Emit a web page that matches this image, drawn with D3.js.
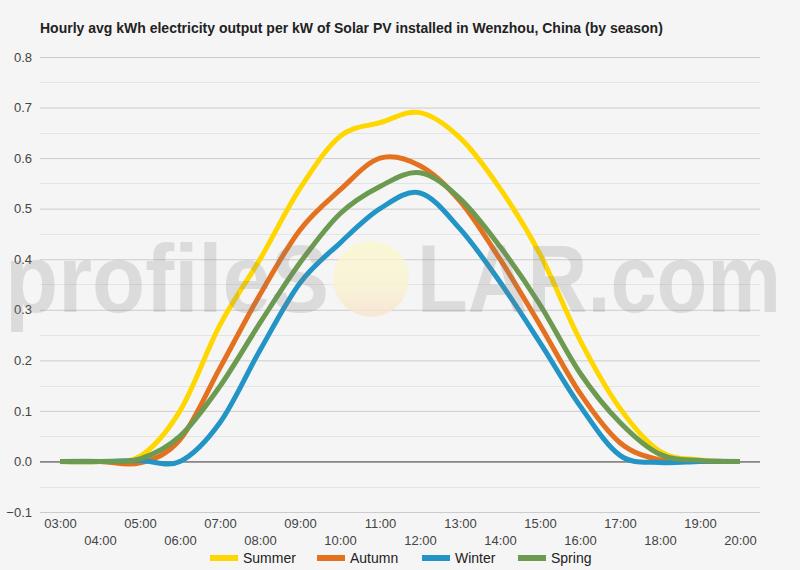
<!DOCTYPE html>
<html>
<head>
<meta charset="utf-8">
<script src="https://cdn.jsdelivr.net/npm/d3@7"></script>
<style>
    body { margin: 0; background: #f5f5f5; }
    svg { display: block; font-family: Arial, "Liberation Sans", sans-serif; }
</style>
</head>
<body>
<svg id="chart" width="800" height="570"></svg>
<script>
const hours = ['03:00', '04:00', '05:00', '06:00', '07:00', '08:00', '09:00', '10:00', '11:00',
    '12:00', '13:00', '14:00', '15:00', '16:00', '17:00', '18:00', '19:00', '20:00'];
const summer = [0, 0, 0.01, 0.10, 0.27, 0.40, 0.54, 0.643, 0.67, 0.69, 0.64, 0.54, 0.41, 0.24, 0.105, 0.02, 0.003, 0];
const autumn = [0, 0, -0.003, 0.043, 0.185, 0.33, 0.458, 0.537, 0.60, 0.585, 0.515, 0.40, 0.27, 0.135, 0.037, 0.003, 0, 0];
const winter = [0, 0, 0.002, 0.0, 0.077, 0.22, 0.353, 0.432, 0.50, 0.531, 0.46, 0.355, 0.235, 0.11, 0.012, -0.002, 0, 0];
const spring = [0, 0, 0.005, 0.05, 0.149, 0.274, 0.393, 0.49, 0.544, 0.571, 0.52, 0.425, 0.31, 0.175, 0.077, 0.014, 0.002, 0];
const seriesNames = ['Summer', 'Autumn', 'Winter', 'Spring'];
const seriesColors = ['#ffd700', '#e4711f', '#2394c6', '#6b9a50'];
const yTicks = [-0.1, 0, 0.1, 0.2, 0.3, 0.4, 0.5, 0.6, 0.7, 0.8];

const series = [summer, autumn, winter, spring];

let margin = {top: 57, right: 40, bottom: 58, left: 40},
    width = 800 - margin.left - margin.right,
    height = 570 - margin.top - margin.bottom;

const svg = d3.select('#chart');
svg.append('rect').attr('width', 800).attr('height', 570).attr('fill', '#f5f5f5');

svg.append('text')
    .attr('x', 40).attr('y', 33)
    .attr('font-size', 14).attr('font-weight', 'bold').attr('fill', '#222')
    .text('Hourly avg kWh electricity output per kW of Solar PV installed in Wenzhou, China (by season)');

let g = svg.append('g').attr('transform', 'translate(' + margin.left + ',' + margin.top + ')');

let x = d3.scalePoint().domain(hours).range([0, width]).padding(0.5);
let y = d3.scaleLinear().domain([-0.1, 0.8]).range([height, 0]);

// minor gridlines
g.append('g')
    .selectAll('line')
    .data(d3.range(-0.05, 0.8, 0.1))
    .join('line')
    .attr('x1', 0).attr('x2', width)
    .attr('y1', d => Math.round(y(d)) + 0.5).attr('y2', d => Math.round(y(d)) + 0.5)
    .attr('stroke', '#e4e4e4');

// major gridlines + labels
let yAxis = d3.axisLeft(y).tickValues(yTicks).tickFormat(d3.format('.1f')).tickSize(-width).tickPadding(8);
g.append('g')
    .call(yAxis)
    .call(a => a.select('.domain').remove())
    .call(a => a.selectAll('line').attr('stroke', d => d === 0 ? '#333' : '#ccc'))
    .call(a => a.selectAll('text').attr('font-size', 13).attr('fill', '#444').attr('font-family', 'Arial, sans-serif'));

// x labels, two staggered rows
let xAxis = d3.axisBottom(x).tickSize(0).tickPadding(0);
g.append('g')
    .attr('transform', 'translate(0,' + height + ')')
    .call(xAxis)
    .call(a => a.select('.domain').remove())
    .call(a => a.selectAll('text')
        .attr('font-size', 13).attr('fill', '#444').attr('font-family', 'Arial, sans-serif')
        .attr('dy', null)
        .attr('y', (d, i) => i % 2 === 0 ? 16 : 33));

let line = d3.line()
    .x((d, i) => x(hours[i]))
    .y(d => y(d))
    .curve(d3.curveCatmullRom.alpha(0));

g.append('g')
    .selectAll('path')
    .data(series)
    .join('path')
    .attr('d', line)
    .attr('fill', 'none')
    .attr('stroke', (d, i) => seriesColors[i])
    .attr('stroke-width', 5)
    .attr('stroke-linejoin', 'round');

// watermark
let defs = svg.append('defs');
let grad = defs.append('linearGradient').attr('id', 'sun').attr('x1', 0).attr('y1', 0).attr('x2', 0).attr('y2', 1);
grad.append('stop').attr('offset', '0%').attr('stop-color', '#fbf9cc');
grad.append('stop').attr('offset', '60%').attr('stop-color', '#faf3cf');
grad.append('stop').attr('offset', '100%').attr('stop-color', '#f8e3cc');

let wm = svg.append('g').attr('opacity', 0.85);
wm.append('circle').attr('cx', 371).attr('cy', 279).attr('r', 38).attr('fill', 'url(#sun)').attr('opacity', 0.9);
wm.append('text')
    .attr('x', 5).attr('y', 312)
    .attr('font-size', 96).attr('font-weight', 'bold').attr('font-family', 'Arial, "Liberation Sans", sans-serif')
    .attr('textLength', 324).attr('lengthAdjust', 'spacingAndGlyphs')
    .attr('fill', '#808080').attr('fill-opacity', 0.25)
    .text('profileS');
wm.append('text')
    .attr('x', 417).attr('y', 312)
    .attr('font-size', 96).attr('font-weight', 'bold').attr('font-family', 'Arial, "Liberation Sans", sans-serif')
    .attr('textLength', 364).attr('lengthAdjust', 'spacingAndGlyphs')
    .attr('fill', '#808080').attr('fill-opacity', 0.25)
    .text('LAR.com');

// legend
const legendX = [210, 317, 422, 518];
let legend = svg.append('g');
seriesNames.forEach(function (name, i) {
    legend.append('line')
        .attr('x1', legendX[i]).attr('x2', legendX[i] + 28)
        .attr('y1', 558).attr('y2', 558)
        .attr('stroke', seriesColors[i]).attr('stroke-width', 6);
    legend.append('text')
        .attr('x', legendX[i] + 33).attr('y', 563)
        .attr('font-size', 14).attr('fill', '#222')
        .text(name);
});
</script>
</body>
</html>
